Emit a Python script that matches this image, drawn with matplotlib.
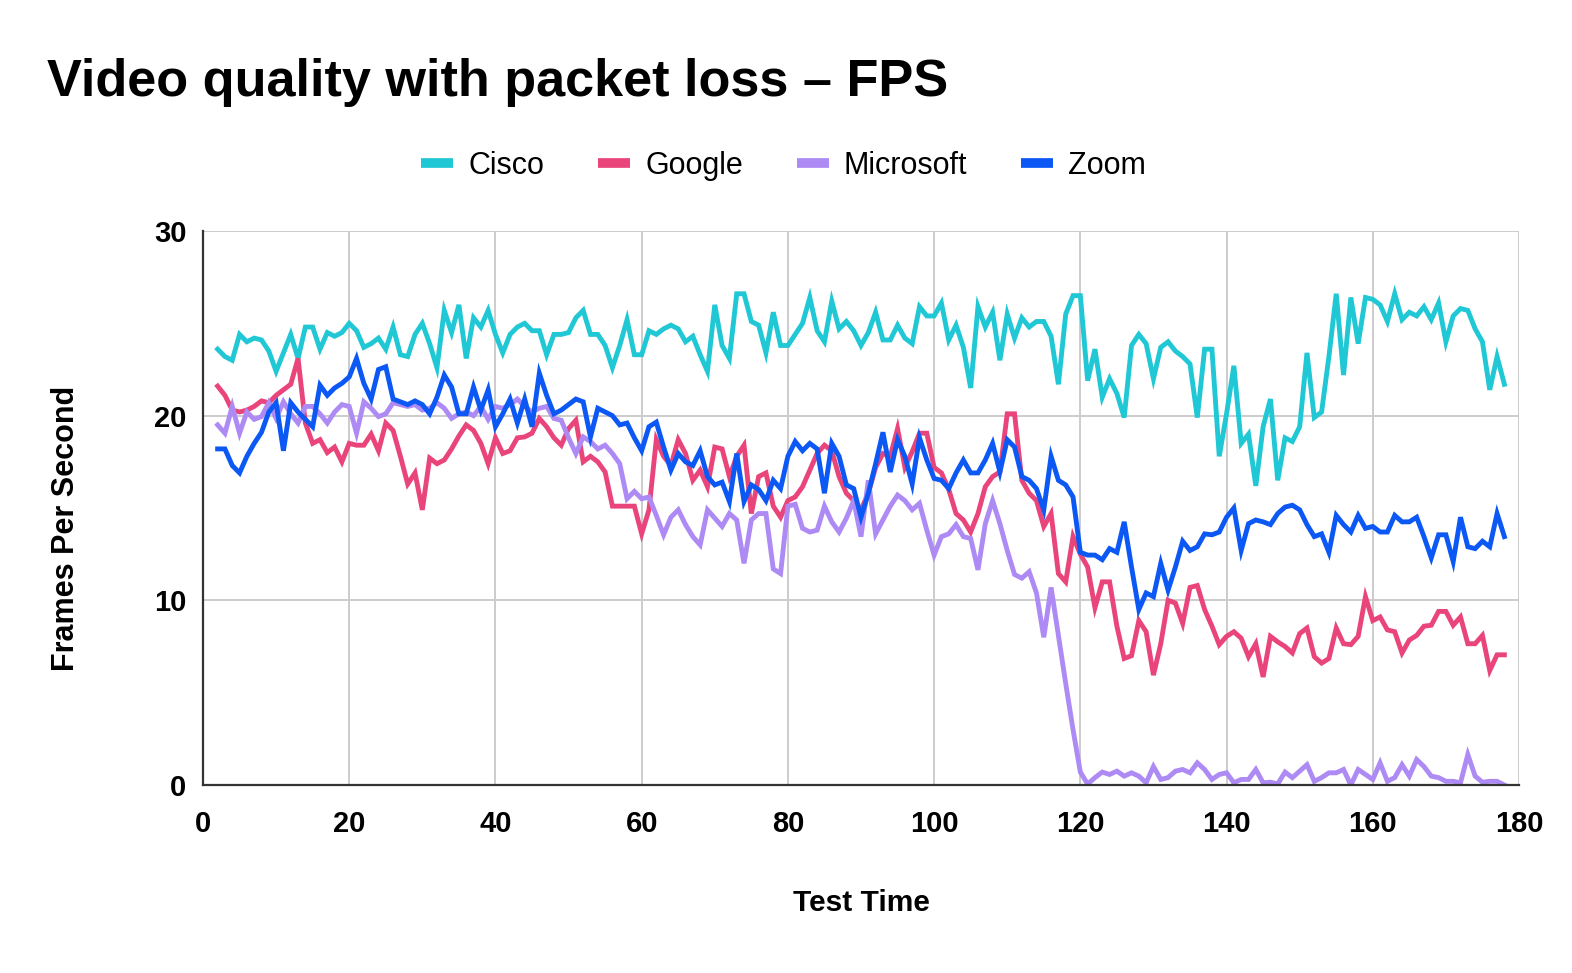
import matplotlib
matplotlib.use("Agg")
import matplotlib.pyplot as plt
from matplotlib.lines import Line2D

plt.rcParams['font.family'] = ['Liberation Sans', 'DejaVu Sans']

test_time = list(range(2, 179))

cisco = [23.6, 23.2, 23.0, 24.4, 24.0, 24.2, 24.1, 23.5, 22.4,
         23.4, 24.4, 23.1, 24.8, 24.8, 23.6, 24.5, 24.3, 24.5, 25.0,
         24.6, 23.7, 23.9, 24.2, 23.6, 24.8, 23.3, 23.2, 24.4, 25.0,
         23.9, 22.6, 25.7, 24.5, 26.0, 23.1, 25.3, 24.8, 25.7, 24.4,
         23.4, 24.4, 24.8, 25.0, 24.6, 24.6, 23.3, 24.4, 24.4, 24.5,
         25.3, 25.7, 24.4, 24.4, 23.8, 22.6, 23.8, 25.2, 23.3, 23.3,
         24.6, 24.4, 24.7, 24.9, 24.7, 24.0, 24.3, 23.3, 22.4, 26.0,
         23.8, 23.1, 26.6, 26.6, 25.1, 24.9, 23.4, 25.6, 23.8, 23.8,
         24.4, 25.0, 26.4, 24.6, 24.0, 26.2, 24.7, 25.1, 24.6, 23.8,
         24.5, 25.6, 24.1, 24.1, 24.9, 24.2, 23.9, 25.9, 25.4, 25.4,
         26.1, 24.1, 24.9, 23.7, 21.5, 25.9, 24.8, 25.6, 23.0, 25.5,
         24.2, 25.3, 24.8, 25.1, 25.1, 24.3, 21.7, 25.5, 26.5, 26.5,
         21.9, 23.6, 21.0, 22.0, 21.2, 19.9, 23.8, 24.4, 23.9, 22.0,
         23.7, 24.0, 23.5, 23.2, 22.8, 19.9, 23.6, 23.6, 17.8, 20.1,
         22.7, 18.5, 19.0, 16.2, 19.4, 20.9, 16.5, 18.8, 18.6, 19.4,
         23.4, 19.9, 20.2, 23.2, 26.6, 22.2, 26.4, 23.9, 26.4, 26.3,
         26.0, 25.1, 26.6, 25.2, 25.6, 25.4, 25.9, 25.2, 26.1, 24.0,
         25.4, 25.8, 25.7, 24.7, 24.0, 21.4, 23.2, 21.7]

google = [21.6, 21.1, 20.3, 20.2, 20.3, 20.5, 20.8, 20.7, 21.1,
          21.4, 21.7, 23.1, 19.6, 18.5, 18.7, 18.0, 18.3, 17.5, 18.5,
          18.4, 18.4, 19.0, 18.1, 19.6, 19.2, 17.8, 16.3, 16.9, 14.9,
          17.7, 17.4, 17.6, 18.2, 18.9, 19.5, 19.2, 18.5, 17.4, 18.8,
          17.95, 18.1, 18.8, 18.85, 19.05, 19.85, 19.4, 18.8, 18.4, 19.3,
          19.75, 17.5, 17.8, 17.5, 16.95, 15.1, 15.1, 15.1, 15.1, 13.6,
          14.9, 18.7, 17.8, 17.3, 18.7, 17.95, 16.5, 17.05, 16.15, 18.3,
          18.2, 16.7, 17.8, 18.4, 14.7, 16.7, 16.9, 15.1, 14.5, 15.4,
          15.6, 16.15, 17.05, 17.95, 18.4, 18.1, 16.7, 15.8, 15.4, 14.9,
          15.8, 17.2, 17.95, 17.8, 19.3, 17.2, 18.05, 19.05, 19.05, 17.2,
          16.9, 16.0, 14.7, 14.35, 13.7, 14.7, 16.15, 16.7, 16.95, 20.1,
          20.1, 16.5, 15.8, 15.4, 14.0, 14.7, 11.45, 11.0, 13.45, 12.5,
          11.8, 9.6, 11.0, 11.0, 8.6, 6.85, 7.0, 8.9, 8.3, 5.95,
          7.65, 10.0, 9.85, 8.75, 10.7, 10.8, 9.5, 8.6, 7.6, 8.05,
          8.3, 7.95, 6.95, 7.65, 5.85, 8.05, 7.75, 7.5, 7.15, 8.2,
          8.5, 6.95, 6.6, 6.85, 8.5, 7.65, 7.6, 8.05, 10.2, 8.9,
          9.1, 8.4, 8.3, 7.15, 7.85, 8.1, 8.6, 8.65, 9.4, 9.4,
          8.65, 9.1, 7.65, 7.65, 8.1, 6.2, 7.05, 7.05]

microsoft = [19.5, 19.05, 20.5, 19.05, 20.2, 19.8, 19.95, 20.7, 19.85,
             20.75, 20.1, 19.6, 20.5, 20.5, 20.1, 19.6, 20.2, 20.6, 20.5,
             19.05, 20.75, 20.4, 19.95, 20.1, 20.7, 20.6, 20.5, 20.6, 20.3,
             20.4, 20.7, 20.4, 19.85, 20.1, 20.2, 20.0, 20.5, 19.8, 20.5,
             20.4, 20.6, 20.9, 20.5, 20.2, 20.4, 20.5, 19.85, 19.75, 18.8,
             17.95, 18.85, 18.6, 18.2, 18.4, 17.95, 17.4, 15.5, 15.9, 15.5,
             15.6, 14.6, 13.55, 14.5, 14.9, 14.1, 13.45, 13.0, 14.9, 14.45,
             14.0, 14.7, 14.35, 12.0, 14.35, 14.7, 14.7, 11.7, 11.45, 15.1,
             15.2, 13.9, 13.7, 13.8, 15.1, 14.25, 13.7, 14.45, 15.4, 13.45,
             16.5, 13.6, 14.35, 15.1, 15.7, 15.4, 14.9, 15.25, 13.8, 12.45,
             13.45, 13.6, 14.1, 13.45, 13.35, 11.65, 14.15, 15.4, 14.15, 12.7,
             11.4, 11.2, 11.55, 10.4, 8.0, 10.7, 8.1, 5.5, 3.0, 0.7,
             0.05, 0.4, 0.7, 0.57, 0.75, 0.48, 0.66, 0.48, 0.12, 1.0,
             0.3, 0.4, 0.75, 0.84, 0.66, 1.2, 0.84, 0.3, 0.57, 0.66,
             0.12, 0.3, 0.3, 0.84, 0.12, 0.15, 0.06, 0.7, 0.4, 0.75,
             1.1, 0.2, 0.4, 0.66, 0.66, 0.84, 0.0, 0.84, 0.57, 0.3,
             1.2, 0.2, 0.4, 1.1, 0.48, 1.38, 1.0, 0.48, 0.4, 0.2,
             0.2, 0.12, 1.65, 0.48, 0.15, 0.2, 0.2, 0.0]

zoom = [18.2, 18.2, 17.3, 16.9, 17.8, 18.5, 19.1, 20.2, 20.7,
        18.1, 20.7, 20.2, 19.8, 19.4, 21.65, 21.1, 21.5, 21.75, 22.1,
        23.1, 21.75, 20.9, 22.5, 22.65, 20.9, 20.75, 20.6, 20.8, 20.6,
        20.1, 21.0, 22.2, 21.55, 20.1, 20.1, 21.55, 20.3, 21.4, 19.4,
        20.1, 20.9, 19.6, 20.9, 19.4, 22.3, 21.1, 20.1, 20.3, 20.6,
        20.9, 20.75, 18.85, 20.4, 20.2, 20.0, 19.5, 19.6, 18.8, 18.1,
        19.4, 19.65, 18.3, 17.05, 17.95, 17.5, 17.3, 18.1, 16.7, 16.25,
        16.4, 15.35, 17.95, 15.35, 16.25, 16.0, 15.4, 16.5, 16.05, 17.8,
        18.6, 18.1, 18.5, 18.2, 15.8, 18.5, 17.8, 16.25, 16.05, 14.5,
        15.8, 17.4, 19.1, 16.95, 18.7, 17.8, 16.3, 18.8, 17.6, 16.6,
        16.5, 16.05, 16.9, 17.6, 16.9, 16.9, 17.6, 18.5, 16.95, 18.7,
        18.3, 16.7, 16.5, 16.05, 14.9, 17.8, 16.5, 16.25, 15.6, 12.6,
        12.45, 12.45, 12.2, 12.8, 12.6, 14.25, 11.8, 9.5, 10.4, 10.2,
        12.0, 10.55, 11.8, 13.2, 12.7, 12.9, 13.6, 13.55, 13.7, 14.5,
        15.0, 12.7, 14.15, 14.35, 14.25, 14.1, 14.7, 15.05, 15.15, 14.9,
        14.1, 13.45, 13.6, 12.6, 14.6, 14.1, 13.7, 14.6, 13.9, 14.0,
        13.7, 13.7, 14.6, 14.25, 14.25, 14.5, 13.45, 12.3, 13.55, 13.55,
        12.1, 14.5, 12.9, 12.8, 13.2, 12.9, 14.7, 13.45]

series_names = ["Cisco", "Google", "Microsoft", "Zoom"]
series_colors = ["#20c7d4", "#e9457b", "#ad8af4", "#0c58f4"]
x_ticks = [0, 20, 40, 60, 80, 100, 120, 140, 160, 180]
y_ticks = [0, 10, 20, 30]

W, H = 1572, 973
fig = plt.figure(figsize=(W / 100, H / 100), dpi=100)
ax = fig.add_axes([203 / W, 1 - 785 / H, (1519 - 203) / W, (785 - 231) / H])

for name, vals, col in zip(series_names, [cisco, google, microsoft, zoom], series_colors):
    ax.plot(test_time, vals, color=col, lw=3.5, solid_joinstyle='miter', label=name, zorder=3)

ax.set_xlim(0, 180)
ax.set_ylim(0, 30)
ax.set_xticks(x_ticks)
ax.set_yticks(y_ticks)
ax.grid(True, color="#cccccc", lw=1.4, zorder=0)
ax.set_axisbelow(True)
for s in ["top", "right"]:
    ax.spines[s].set_visible(False)
for s in ["left", "bottom"]:
    ax.spines[s].set_color("#333333")
    ax.spines[s].set_linewidth(1.6)
    ax.spines[s].set_zorder(4)
ax.tick_params(axis='both', length=0, labelsize=21)
ax.tick_params(axis='x', pad=18)
ax.tick_params(axis='y', pad=12)
for lab in ax.get_xticklabels() + ax.get_yticklabels():
    lab.set_fontweight('bold')

fig.text(47 / W, 1 - 96 / H, "Video quality with packet loss \u2013 FPS",
         fontsize=37.6, fontweight='bold', ha='left', va='baseline')
fig.text(861 / W, 1 - 903 / H, "Test Time", fontsize=21.5, fontweight='bold',
         ha='center', va='center')
fig.text(66 / W, 1 - 528 / H, "Frames Per Second", fontsize=22, fontweight='bold',
         ha='center', va='center', rotation=90)

handles = [Line2D([0], [0], color=c, lw=7, solid_capstyle='butt') for c in series_colors]
fig.legend(handles, series_names, loc='center', bbox_to_anchor=(0.4985, 1 - 166 / H),
           ncol=4, frameon=False, fontsize=22, handlelength=1.05, handletextpad=0.5,
           columnspacing=1.75, borderpad=0)

fig.savefig("out.png", dpi=100)
